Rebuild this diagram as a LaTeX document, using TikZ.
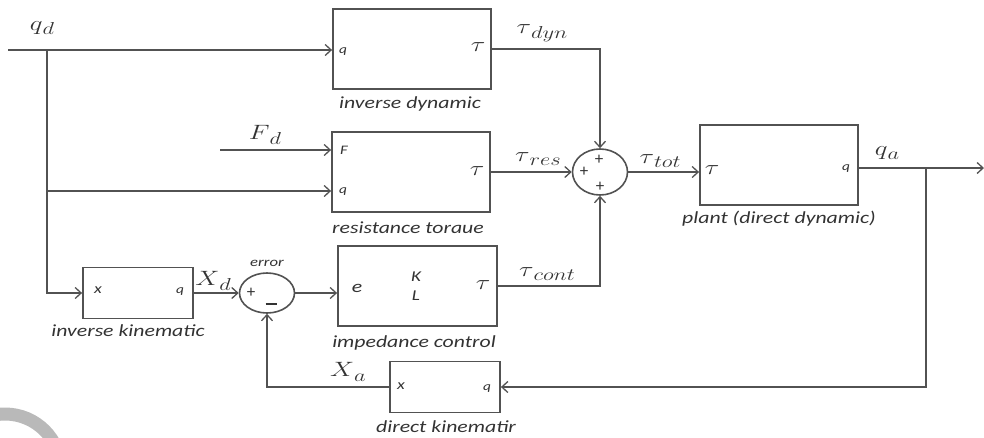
\documentclass[tikz,border=0pt]{standalone}
\usepackage{fontspec}
\usepackage{graphicx}
\setmainfont{Carlito}
\newfontfamily\lab[FakeStretch=1.28]{Carlito}
\usetikzlibrary{arrows.meta,calc,shapes.geometric}
\definecolor{ln}{HTML}{525252}
\definecolor{tx}{HTML}{333333}
\newcommand{\stx}[1]{\scalebox{1.3}[1]{#1}}
\newcommand{\sg}[2]{\stx{\fontsize{22}{22}\selectfont$#1$\raisebox{-0.22em}{\fontsize{17}{17}\selectfont$#2$}}}
\tikzset{
  blk/.style={draw=ln,line width=1.8pt,inner sep=0pt},
  sumc/.style={draw=ln,line width=1.6pt,ellipse,inner sep=0pt},
  arr/.style={-{Straight Barb[length=6pt,width=11pt,line width=1.3pt]}},
  wire/.style={draw=ln,line width=1.5pt},
  lbl/.style={font=\lab\itshape\fontsize{17}{17}\selectfont,text=tx},
  port/.style={font=\lab\itshape\fontsize{12}{12}\selectfont,text=tx},
  bport/.style={font=\lab\itshape\fontsize{15}{15}\selectfont,text=tx},
  tau/.style={font=\fontsize{20}{20}\selectfont,text=tx},
  sig/.style={text=tx,inner sep=0pt},
  pm/.style={font=\fontsize{17}{17}\selectfont,text=tx}
}
\begin{document}
\begin{tikzpicture}[x=1pt,y=-1pt]
\useasboundingbox (0,0) rectangle (984,437);
\begin{scope}
\clip (0,0) rectangle (984,437);
\draw[line width=13pt,color=gray!55] (5,470) circle[radius=56];
\end{scope}
% blocks
\node[blk,minimum width=158,minimum height=80] (ID) at (412,49) {};
\node[blk,minimum width=158,minimum height=80] (RT) at (411,172) {};
\node[blk,minimum width=158,minimum height=80] (PL) at (779,165) {};
\node[blk,minimum width=159,minimum height=80] (IC) at (417.5,286) {};
\node[blk,minimum width=110,minimum height=51] (IK) at (138,293) {};
\node[blk,minimum width=110,minimum height=51] (DK) at (445,387) {};
\node[sumc,minimum width=55,minimum height=46] (S) at (600,172) {};
\node[sumc,minimum width=55,minimum height=40] (E) at (267,293) {};
% coordinates
\coordinate (qin) at (8,50);
\coordinate (j1) at (47,50);
\coordinate (j2) at (47,191);
\coordinate (fin) at (220,150);
\coordinate (j3) at (926,168);
\coordinate (qout) at (984,168);
% wires
\draw[wire,arr] (qin) -- (qin -| ID.west);
\draw[wire,arr] (j1) |- (IK.west);
\draw[wire,arr] (j2) -- (j2 -| RT.west);
\draw[wire,arr] (fin) -- (fin -| RT.west);
\draw[wire,arr] (ID.east) -| (S.north);
\draw[wire,arr] (RT.east) -- (S.west);
\draw[wire,arr] (IC.east) -| (S.south);
\draw[wire,arr] (S.east) -- (S.east -| PL.west);
\draw[wire,arr] (PL.east |- j3) -- (qout);
\draw[wire,arr] (j3) |- (DK.east);
\draw[wire,arr] (DK.west) -| (E.south);
\draw[wire,arr] (IK.east) -- (E.west);
\draw[wire,arr] (E.east) -- (E.east -| IC.west);
% port texts
\node[port] (p1) at (343,52) {q};
\node[tau] (p2) at (478,47) {\stx{$\tau$}};
\node[port,font=\lab\itshape\fontsize{13}{13}\selectfont] (p3) at (344,150) {F};
\node[port] (p4) at (343,192) {q};
\node[tau] (p5) at (477,171) {\stx{$\tau$}};
\node[tau] (p6) at (712,170) {\stx{$\tau$}};
\node[port] (p7) at (846,169) {q};
\node[bport,font=\lab\itshape\fontsize{17}{17}\selectfont] (p8) at (357,288) {e};
\node[bport] (p9) at (416,277) {K};
\node[bport] (p10) at (416,296) {L};
\node[tau] (p11) at (483,285) {\stx{$\tau$}};
\node[bport,font=\lab\itshape\fontsize{14}{14}\selectfont] (p12) at (98,290) {x};
\node[port] (p13) at (180,292) {q};
\node[bport,font=\lab\itshape\fontsize{14}{14}\selectfont] (p14) at (401,386) {x};
\node[port] (p15) at (487,389) {q};
% sum signs
\node[pm] (s1) at (599,160) {+};
\node[pm] (s2) at (584,172) {+};
\node[pm] (s3) at (600,187) {+};
\node[pm] (e1) at (251,293) {+};
\node[text=tx,inner sep=0pt] (e2) at (271,304) {\rule{11pt}{1.4pt}};
% block names
\node[lbl] (l1) at (410,104) {inverse dynamic};
\node[lbl] (l2) at (408,228) {resistance toraue};
\node[lbl] (l3) at (779,219) {plant (direct dynamic)};
\node[lbl] (l4) at (414,343) {impedance control};
\node[lbl] (l5) at (128,331) {inverse kinematic};
\node[lbl] (l6) at (446,427) {direct kinematir};
\node[port,font=\lab\itshape\fontsize{13}{13}\selectfont] (l7) at (267,263) {error};
% signal names
\node[sig] (n1) at (42,28) {\sg{q}{d}};
\node[sig] (n2) at (265,135) {\sg{F}{d}};
\node[sig] (n3) at (542,33) {\sg{\tau}{dyn}};
\node[sig] (n4) at (538,159) {\sg{\tau}{res}};
\node[sig] (n5) at (660,161) {\sg{\tau}{tot}};
\node[sig] (n6) at (887,153) {\sg{q}{a}};
\node[sig] (n7) at (547,274) {\sg{\tau}{cont}};
\node[sig] (n8) at (213,281) {\sg{X}{d}};
\node[sig] (n9) at (348,372) {\sg{X}{a}};
\end{tikzpicture}
\end{document}
